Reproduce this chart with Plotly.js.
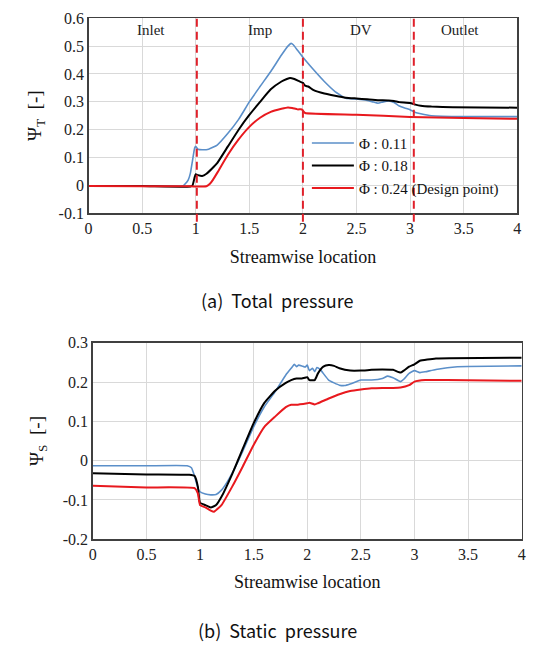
<!DOCTYPE html>
<html>
<head>
<meta charset="utf-8">
<script src="https://cdn.plot.ly/plotly-3.0.1.min.js"></script>
<style>html,body{margin:0;padding:0;background:#fff;}#chart{width:549px;height:653px;}</style>
</head>
<body>
<div id="chart"></div>
<script>
// ---- Series names ----
const seriesNames = ["\u03A6 : 0.11", "\u03A6 : 0.18", "\u03A6 : 0.24 (Design point)"];
const regionLabels = ["Inlet", "Imp", "DV", "Outlet"];
const regionCenters = [0.58, 1.6, 2.54, 3.47];
const regionBounds = [1.01, 2.0, 3.035];

// ---- (a) Total pressure ----
const xT_011 = [0, 0.5, 0.88, 0.9, 0.93, 0.95, 0.97, 0.99, 1.0, 1.02, 1.06, 1.12, 1.2, 1.3, 1.4, 1.5, 1.6, 1.7, 1.8, 1.86, 1.89, 1.91, 1.95, 2.0, 2.1, 2.2, 2.3, 2.4, 2.5, 2.6, 2.65, 2.7, 2.75, 2.8, 2.85, 2.9, 2.95, 3.0, 3.05, 3.1, 3.2, 3.5, 4.0];
const yT_011 = [-0.002, -0.002, -0.002, 0.005, 0.02, 0.044, 0.09, 0.135, 0.14, 0.13, 0.128, 0.13, 0.145, 0.187, 0.237, 0.30, 0.355, 0.409, 0.468, 0.5, 0.51, 0.505, 0.485, 0.46, 0.415, 0.373, 0.337, 0.313, 0.31, 0.305, 0.3, 0.295, 0.3, 0.303, 0.298, 0.285, 0.278, 0.272, 0.262, 0.257, 0.25, 0.247, 0.247];

const xT_018 = [0, 0.5, 0.95, 0.97, 0.99, 1.0, 1.02, 1.06, 1.1, 1.15, 1.2, 1.3, 1.4, 1.5, 1.6, 1.7, 1.8, 1.85, 1.88, 1.92, 1.96, 2.0, 2.02, 2.05, 2.1, 2.2, 2.3, 2.4, 2.5, 2.6, 2.7, 2.8, 2.85, 2.9, 3.0, 3.05, 3.1, 3.2, 3.4, 4.0];
const yT_018 = [-0.002, -0.002, -0.004, 0.0, 0.03, 0.04, 0.037, 0.034, 0.042, 0.06, 0.08, 0.14, 0.2, 0.253, 0.30, 0.345, 0.373, 0.382, 0.386, 0.382, 0.375, 0.368, 0.358, 0.355, 0.342, 0.33, 0.322, 0.315, 0.312, 0.309, 0.306, 0.305, 0.303, 0.299, 0.296, 0.29, 0.286, 0.283, 0.281, 0.279];

const xT_024 = [0, 0.5, 0.95, 1.0, 1.05, 1.1, 1.13, 1.16, 1.2, 1.3, 1.4, 1.5, 1.6, 1.7, 1.8, 1.86, 1.9, 1.95, 1.99, 2.0, 2.02, 2.5, 3.0, 3.5, 4.0];
const yT_024 = [-0.002, -0.003, -0.003, -0.004, -0.004, -0.003, 0.005, 0.02, 0.045, 0.11, 0.165, 0.21, 0.243, 0.264, 0.275, 0.28, 0.278, 0.273, 0.273, 0.268, 0.26, 0.254, 0.246, 0.242, 0.239];

// ---- (b) Static pressure ----
const xS_011 = [0, 0.5, 0.88, 0.92, 0.95, 0.98, 1.0, 1.05, 1.1, 1.15, 1.2, 1.25, 1.3, 1.4, 1.5, 1.6, 1.7, 1.8, 1.85, 1.88, 1.9, 1.92, 1.95, 1.98, 2.0, 2.02, 2.05, 2.07, 2.09, 2.12, 2.2, 2.3, 2.35, 2.4, 2.5, 2.6, 2.7, 2.75, 2.8, 2.87, 2.9, 2.95, 3.0, 3.05, 3.1, 3.2, 3.4, 4.0];
const yS_011 = [-0.013, -0.013, -0.013, -0.018, -0.04, -0.07, -0.079, -0.085, -0.087, -0.086, -0.075, -0.056, -0.032, 0.025, 0.086, 0.137, 0.175, 0.218, 0.235, 0.245, 0.239, 0.243, 0.241, 0.238, 0.243, 0.229, 0.235, 0.226, 0.237, 0.232, 0.205, 0.192, 0.191, 0.195, 0.205, 0.205, 0.209, 0.215, 0.211, 0.201, 0.207, 0.222, 0.229, 0.224, 0.226, 0.232, 0.239, 0.241];

const xS_018 = [0, 0.5, 0.9, 0.95, 0.98, 1.0, 1.05, 1.1, 1.15, 1.2, 1.3, 1.4, 1.5, 1.6, 1.7, 1.8, 1.85, 1.9, 1.95, 2.0, 2.02, 2.07, 2.1, 2.15, 2.2, 2.25, 2.3, 2.4, 2.5, 2.6, 2.7, 2.8, 2.87, 2.9, 2.95, 3.0, 3.05, 3.2, 4.0];
const yS_018 = [-0.032, -0.035, -0.036, -0.039, -0.066, -0.107, -0.113, -0.119, -0.113, -0.092, -0.034, 0.031, 0.095, 0.147, 0.178, 0.198, 0.205, 0.209, 0.209, 0.212, 0.205, 0.205, 0.222, 0.239, 0.243, 0.241, 0.235, 0.229, 0.229, 0.231, 0.232, 0.231, 0.224, 0.229, 0.239, 0.245, 0.254, 0.26, 0.262];

const xS_024 = [0, 0.5, 0.95, 0.98, 1.0, 1.05, 1.1, 1.13, 1.2, 1.3, 1.4, 1.5, 1.6, 1.7, 1.8, 1.85, 1.9, 2.0, 2.02, 2.07, 2.1, 2.2, 2.3, 2.4, 2.5, 2.6, 2.7, 2.8, 2.87, 2.95, 3.0, 3.1, 3.3, 4.0];
const yS_024 = [-0.064, -0.068, -0.07, -0.083, -0.113, -0.119, -0.127, -0.13, -0.113, -0.066, -0.014, 0.04, 0.086, 0.112, 0.136, 0.142, 0.142, 0.146, 0.147, 0.143, 0.146, 0.158, 0.169, 0.177, 0.181, 0.184, 0.185, 0.185, 0.186, 0.192, 0.201, 0.205, 0.205, 0.203];

// ---- Tick labels ----
const xTickVals = [0, 0.5, 1, 1.5, 2, 2.5, 3, 3.5, 4];
const xTickText = ["0", "0.5", "1", "1.5", "2", "2.5", "3", "3.5", "4"];
const yTTickVals = [-0.1, 0, 0.1, 0.2, 0.3, 0.4, 0.5, 0.6];
const yTTickText = ["-0.1", "0", "0.1", "0.2", "0.3", "0.4", "0.5", "0.6"];
const ySTickVals = [-0.2, -0.1, 0, 0.1, 0.2, 0.3];
const ySTickText = ["-0.2", "-0.1", "0", "0.1", "0.2", "0.3"];

const colors = ["#5b8fc9", "#000000", "#e8191e"];
const widths = [1.6, 2, 2];
const serif = "Liberation Serif, Times New Roman, serif";
const sans = "Noto Sans CJK KR, Noto Sans, sans-serif";

function mk(x, y, i, xa, ya, show) {
  return {x: x, y: y, type: "scatter", mode: "lines", name: seriesNames[i],
    xaxis: xa, yaxis: ya, showlegend: show,
    line: {color: colors[i], width: widths[i], shape: "spline", smoothing: 0.4}};
}

const data = [
  mk(xT_011, yT_011, 0, "x", "y", true),
  mk(xT_018, yT_018, 1, "x", "y", true),
  mk(xT_024, yT_024, 2, "x", "y", true),
  mk(xS_011, yS_011, 0, "x2", "y2", false),
  mk(xS_018, yS_018, 1, "x2", "y2", false),
  mk(xS_024, yS_024, 2, "x2", "y2", false)
];

const axBase = {showgrid: true, gridcolor: "#d9d9d9", gridwidth: 1, zeroline: false,
  showline: true, linecolor: "#404040", linewidth: 1.5, mirror: true,
  ticks: "", tickfont: {family: serif, size: 16, color: "#222"}};

const shapes = regionBounds.map(b => ({type: "line", xref: "x", yref: "paper",
  x0: b, x1: b, y0: 0.6605, y1: 0.972, line: {color: "#e0202a", width: 2, dash: "8px,5px"}}));

const annotations = regionLabels.map((t, i) => ({text: t, x: regionCenters[i], y: 0.557,
  xref: "x", yref: "y", showarrow: false, font: {family: serif, size: 15, color: "#222"}}));
annotations.push({text: "(a)  Total  pressure", x: 0.506, y: 0.541, xref: "paper", yref: "paper",
  xanchor: "center", yanchor: "middle", showarrow: false, font: {family: sans, size: 18, color: "#111"}});
annotations.push({text: "(b)  Static  pressure", x: 0.505, y: 0.035, xref: "paper", yref: "paper",
  xanchor: "center", yanchor: "middle", showarrow: false, font: {family: sans, size: 18, color: "#111"}});

const layout = {
  width: 549, height: 653,
  margin: {l: 0, r: 0, t: 0, b: 0},
  paper_bgcolor: "#fff", plot_bgcolor: "#fff",
  showlegend: true,
  legend: {x: 0.559, y: 0.806, xanchor: "left", yanchor: "top", bgcolor: "rgba(0,0,0,0)",
    font: {family: serif, size: 15, color: "#111"}, itemwidth: 42, tracegroupgap: 0},
  xaxis: Object.assign({}, axBase, {domain: [0.1614, 0.9421], range: [0, 4], anchor: "y",
    tickvals: xTickVals, ticktext: xTickText,
    title: {text: "Streamwise location", font: {family: serif, size: 18, color: "#111"}, standoff: 14}}),
  yaxis: Object.assign({}, axBase, {domain: [0.6734, 0.972], range: [-0.1, 0.6], anchor: "x",
    tickvals: yTTickVals, ticktext: yTTickText,
    title: {text: "\u03A8<sub>T</sub>  [-]", font: {family: serif, size: 19, color: "#111"}, standoff: 12}}),
  xaxis2: Object.assign({}, axBase, {domain: [0.1690, 0.9503], range: [0, 4], anchor: "y2",
    tickvals: xTickVals, ticktext: xTickText,
    title: {text: "Streamwise location", font: {family: serif, size: 18, color: "#111"}, standoff: 13}}),
  yaxis2: Object.assign({}, axBase, {domain: [0.1741, 0.4752], range: [-0.2, 0.3], anchor: "x2",
    tickvals: ySTickVals, ticktext: ySTickText,
    title: {text: "\u03A8<sub>S</sub>  [-]", font: {family: serif, size: 19, color: "#111"}, standoff: 14}}),
  shapes: shapes,
  annotations: annotations
};

Plotly.newPlot("chart", data, layout, {displayModeBar: false, staticPlot: true});
</script>
</body>
</html>
